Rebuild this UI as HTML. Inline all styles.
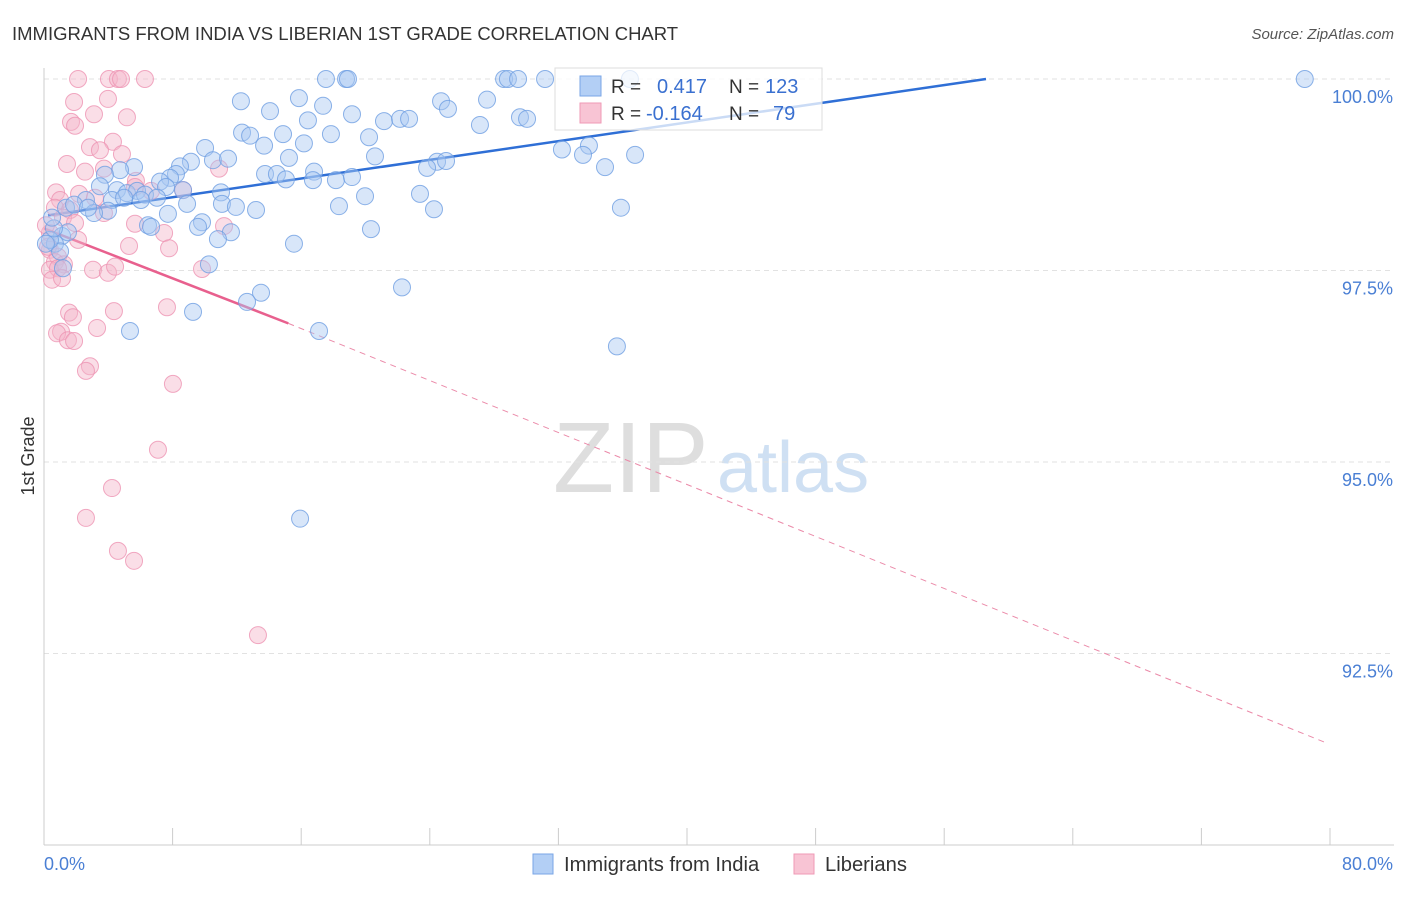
<!DOCTYPE html>
<html><head><meta charset="utf-8"><style>
body{margin:0;background:#fff;font-family:"Liberation Sans",sans-serif;}
svg text{font-family:"Liberation Sans",sans-serif;}
</style></head><body>
<svg id="chart" width="1406" height="892" xmlns="http://www.w3.org/2000/svg">
<text x="12" y="40" font-size="18.5" fill="#333">IMMIGRANTS FROM INDIA VS LIBERIAN 1ST GRADE CORRELATION CHART</text>
<text x="1394" y="39" font-size="15" fill="#555" font-style="italic" text-anchor="end">Source: ZipAtlas.com</text>
<g>
<text x="553" y="492" font-size="100" fill="#dedede" font-family="Liberation Serif,serif">ZIP</text>
<text x="717" y="492" font-size="72" fill="#cfe0f3">atlas</text>
</g>
<g id="grid"></g><g id="axes"></g><g id="trends"></g><g id="pts"></g>
<g>
<rect x="555" y="68" width="267" height="62" fill="#fff" fill-opacity="0.75" stroke="#ddd"/>
<rect x="580" y="76" width="21" height="20" fill="#b3cff5" stroke="#7aa6e6"/>
<rect x="580" y="103" width="21" height="20" fill="#f8c4d4" stroke="#ef9ab6"/>
<text x="611" y="93" font-size="19" fill="#333">R =</text><text x="657" y="93" font-size="20" fill="#3a70d0">0.417</text>
<text x="729" y="93" font-size="19" fill="#333">N =</text><text x="765" y="93" font-size="20" fill="#3a70d0">123</text>
<text x="611" y="120" font-size="19" fill="#333">R =</text><text x="646" y="120" font-size="20" fill="#3a70d0">-0.164</text>
<text x="729" y="120" font-size="19" fill="#333">N =</text><text x="773" y="120" font-size="20" fill="#3a70d0">79</text>
</g>
<g>
<rect x="533" y="854" width="20" height="20" fill="#b3cff5" stroke="#7aa6e6"/>
<text x="564" y="871" font-size="20.2" fill="#333">Immigrants from India</text>
<rect x="794" y="854" width="20" height="20" fill="#f8c4d4" stroke="#ef9ab6"/>
<text x="825" y="871" font-size="20.2" fill="#333">Liberians</text>
</g>
</svg>
<script>
const yTicks=[100,97.5,95,92.5];
const yTickLabels=["100.0%","97.5%","95.0%","92.5%"];
const xTickVals=[0,8,16,24,32,40,48,56,64,72,80];
const xEndLabels=["0.0%","80.0%"];
const indiaX=[17.54,18.79,18.91,28.62,28.86,29.49,31.17,36.45,78.43,12.25,15.86,24.70,27.56,17.36,14.06,19.16,25.13,29.61,21.15,22.15,22.71,16.42,27.12,30.05,12.32,12.82,14.87,17.85,20.22,13.69,10.02,16.17,33.90,32.22,33.53,36.77,20.59,15.24,10.51,11.45,9.14,8.46,5.60,4.73,3.79,24.45,25.01,23.83,34.90,13.75,14.49,15.05,16.80,16.73,18.16,19.16,8.21,7.84,7.22,7.59,3.48,4.54,5.16,5.79,6.28,8.65,11.01,4.23,4.98,2.61,7.03,8.90,6.03,23.39,19.97,11.07,11.94,13.19,18.35,24.26,35.89,3.98,3.11,1.37,1.87,2.74,7.71,9.83,6.47,6.66,9.58,11.63,20.34,10.82,15.55,1.12,0.68,1.49,1.00,0.37,1.18,10.26,22.27,13.50,12.63,9.27,5.35,17.11,35.64,15.93,0.62,0.50,0.12];
const indiaY=[100,100,100,100,100,100,100,100,100,99.71,99.75,99.71,99.73,99.65,99.58,99.54,99.61,99.50,99.45,99.48,99.48,99.46,99.40,99.48,99.30,99.26,99.28,99.28,99.24,99.13,99.10,99.16,99.13,99.08,99.01,99.01,98.99,98.97,98.94,98.96,98.92,98.86,98.85,98.81,98.75,98.92,98.93,98.84,98.85,98.76,98.76,98.69,98.79,98.68,98.68,98.72,98.76,98.71,98.66,98.59,98.60,98.55,98.51,98.54,98.49,98.55,98.52,98.42,98.45,98.42,98.45,98.37,98.42,98.50,98.47,98.37,98.33,98.29,98.34,98.30,98.32,98.28,98.25,98.32,98.36,98.32,98.24,98.13,98.09,98.07,98.07,98.00,98.04,97.91,97.85,97.95,97.85,98.00,97.75,97.90,97.53,97.58,97.28,97.21,97.09,96.96,96.71,96.71,96.51,94.26,98.05,98.19,97.85];
const libX=[2.12,4.04,4.60,4.79,6.28,1.87,3.98,1.68,3.11,5.16,1.93,4.29,2.86,3.48,4.85,1.43,2.55,3.73,10.89,5.72,0.75,2.18,3.17,1.00,0.68,1.62,1.18,8.65,5.66,6.66,3.73,1.93,7.47,5.66,0.37,2.12,7.78,5.29,0.37,0.87,0.68,1.24,0.37,0.87,0.50,1.12,3.05,3.98,4.42,9.83,11.20,4.35,7.65,1.56,1.80,3.30,1.06,0.81,1.49,1.87,2.86,2.61,8.02,7.09,4.23,2.61,4.60,5.60,13.31,0.12,0.25];
const libY=[100,100,100,100,100,99.70,99.74,99.44,99.54,99.50,99.39,99.18,99.11,99.07,99.02,98.89,98.79,98.83,98.83,98.67,98.52,98.50,98.45,98.42,98.32,98.29,98.19,98.55,98.59,98.54,98.25,98.12,97.99,98.11,97.99,97.90,97.79,97.82,97.77,97.68,97.61,97.58,97.51,97.53,97.38,97.40,97.51,97.47,97.55,97.52,98.08,96.97,97.02,96.95,96.89,96.75,96.70,96.68,96.59,96.58,96.25,96.19,96.02,95.16,94.66,94.27,93.84,93.71,92.74,98.09,97.81];
const indiaTrend=[[0.25,98.22],[58.6,100]];
const libTrendSolid=[[0,98.05],[15.2,96.81]];
const libTrendDash=[[15.2,96.81],[79.8,91.33]];

const NS="http://www.w3.org/2000/svg";
const X0=44,X1=1330,Y100=79,PX_PER_UNIT=191.5/2.5;
function sx(v){return X0+(v/80)*(X1-X0);}
function sy(v){return Y100+(100-v)*PX_PER_UNIT;}
function mk(tag,attrs,parent){const e=document.createElementNS(NS,tag);for(const k in attrs)e.setAttribute(k,attrs[k]);parent.appendChild(e);return e;}
const grid=document.getElementById('grid'),axes=document.getElementById('axes'),trends=document.getElementById('trends'),pts=document.getElementById('pts');
yTicks.forEach((t,i)=>{
 const l=mk('line',{x1:44,x2:1394,y1:sy(t),y2:sy(t),stroke:'#e2e2e2','stroke-dasharray':'5,4'},grid);
 
 
 const tx=mk('text',{x:1393,y:sy(t)+24,'font-size':18,fill:'#4a7fd4','text-anchor':'end'},axes);
 tx.textContent=yTickLabels[i];
 
 
});
const ya=mk('line',{x1:44,x2:44,y1:68,y2:845,stroke:'#ccc'},axes);


const xa=mk('line',{x1:44,x2:1394,y1:845,y2:845,stroke:'#ccc'},axes);


xTickVals.forEach(v=>{
 const t=mk('line',{x1:sx(v),x2:sx(v),y1:828,y2:845,stroke:'#ccc'},axes);
 
 
});
const xl0=mk('text',{x:44,y:870,'font-size':18,fill:'#4a7fd4'},axes);xl0.textContent=xEndLabels[0];


const xl1=mk('text',{x:1393,y:870,'font-size':18,fill:'#4a7fd4','text-anchor':'end'},axes);xl1.textContent=xEndLabels[1];


const yt=mk('text',{x:0,y:0,'font-size':18,fill:'#333','text-anchor':'middle',transform:'translate(34,456) rotate(-90)'},axes);yt.textContent='1st Grade';


function dots(xs,ys,fill,stroke,name){xs.forEach((x,i)=>{
 const c=mk('circle',{cx:sx(x),cy:sy(ys[i]),r:8.5,fill:fill,'fill-opacity':0.45,stroke:stroke,'stroke-opacity':0.8,'stroke-width':1},pts);
 
 
});}
dots(libX,libY,'#f5b5c9','#ee93b3','liberians-point');
dots(indiaX,indiaY,'#a9c8f2','#6f9fe2','india-point');
function tl(p,col,dash,name,w){const l=mk('line',{x1:sx(p[0][0]),y1:sy(p[0][1]),x2:sx(p[1][0]),y2:sy(p[1][1]),stroke:col,'stroke-width':w},trends);
 if(dash)l.setAttribute('stroke-dasharray',dash);
 
 }
tl(indiaTrend,'#2f6fd6',null,'india-trend-line',2.5);
tl(libTrendSolid,'#e8608e',null,'liberians-trend-line',2.5);
tl(libTrendDash,'#eb8aa9','6,5','liberians-trend-extension',1);
</script>
</body></html>
